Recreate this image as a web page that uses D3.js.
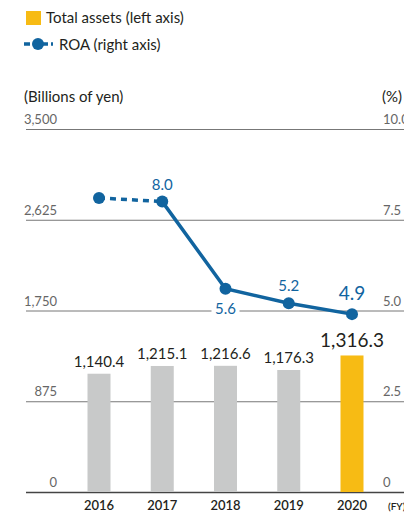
<!DOCTYPE html>
<html>
<head>
<meta charset="utf-8">
<script src="https://cdn.jsdelivr.net/npm/d3@7"></script>
<style>
  body { margin: 0; background: #fff; }
  svg { font-family: Lato, "Noto Sans", sans-serif; display: block; }
</style>
</head>
<body>
<div id="chart"></div>
<script>
// data
const years = ["2016", "2017", "2018", "2019", "2020"];
const assets = [1140.4, 1215.1, 1216.6, 1176.3, 1316.3];
const roa = [8.1, 8.0, 5.6, 5.2, 4.9];
const roaLabels = [null, "8.0", "5.6", "5.2", "4.9"];
const leftTicks = [0, 875, 1750, 2625, 3500];
const rightTicks = [0, 2.5, 5.0, 7.5, 10.0];

const W = 404, H = 518;
const blue = "#11649f", gray = "#c8c9c9", gold = "#f7bb14", ink = "#231f20";

const svg = d3.select("#chart").append("svg")
    .attr("width", W)
    .attr("height", H);

const x = d3.scalePoint().domain(years).range([99, 352]);
const yL = d3.scaleLinear().domain([0, 3500]).range([492, 129]);
const yR = d3.scaleLinear().domain([0, 10]).range([492, 129]);
const barW = 23;

// legend
svg.append("rect").attr("x", 26).attr("y", 11).attr("width", 15).attr("height", 14).attr("fill", gold);
svg.append("text").attr("x", 46).attr("y", 23).attr("font-size", 15).attr("fill", ink)
  .text("Total assets (left axis)");
svg.append("line").attr("x1", 24).attr("x2", 53).attr("y1", 44).attr("y2", 44)
  .attr("stroke", blue).attr("stroke-width", 3.5).attr("stroke-dasharray", "6,3");
svg.append("circle").attr("cx", 38).attr("cy", 44).attr("r", 6).attr("fill", blue);
svg.append("text").attr("x", 59).attr("y", 50).attr("font-size", 15).attr("fill", ink)
  .text("ROA (right axis)");

// axis titles
svg.append("text").attr("x", 24).attr("y", 102).attr("font-size", 15).attr("fill", ink)
  .text("(Billions of yen)");
svg.append("text").attr("x", 382).attr("y", 102).attr("font-size", 15).attr("fill", ink)
  .text("(%)");

// grid lines + tick labels
svg.append("g").selectAll("line")
  .data(leftTicks)
  .join("line")
    .attr("x1", 26).attr("x2", W)
    .attr("y1", d => yL(d) + 0.5).attr("y2", d => yL(d) + 0.5)
    .attr("stroke", d => d === 0 ? "#444" : "#777")
    .attr("stroke-width", d => d === 0 ? 1.3 : 1);

svg.append("g").selectAll("text")
  .data(leftTicks)
  .join("text")
    .attr("x", 57).attr("y", d => yL(d) - 5)
    .attr("text-anchor", "end")
    .attr("font-size", 13).attr("fill", "#666")
    .text(d => d3.format(",")(d));

svg.append("g").selectAll("text")
  .data(rightTicks)
  .join("text")
    .attr("x", 383).attr("y", d => yR(d) - 5)
    .attr("font-size", 13).attr("fill", "#666")
    .text(d => d === 0 ? "0" : d3.format(".1f")(d));

// bars
svg.append("g").selectAll("rect")
  .data(assets)
  .join("rect")
    .attr("x", (d, i) => x(years[i]) - barW / 2)
    .attr("width", barW)
    .attr("y", d => yL(d))
    .attr("height", d => yL(0) - yL(d))
    .attr("fill", (d, i) => i === assets.length - 1 ? gold : gray);

svg.append("g").selectAll("text")
  .data(assets)
  .join("text")
    .attr("x", (d, i) => x(years[i]))
    .attr("y", (d, i) => yL(d) - (i === assets.length - 1 ? 8 : 7))
    .attr("text-anchor", "middle")
    .attr("font-size", (d, i) => i === assets.length - 1 ? 19 : 15)
    .attr("fill", ink)
    .text(d => d3.format(",.1f")(d));

// x labels
svg.append("g").selectAll("text")
  .data(years)
  .join("text")
    .attr("x", d => x(d))
    .attr("y", 510)
    .attr("text-anchor", "middle")
    .attr("font-size", 13).attr("font-weight", 600)
    .attr("fill", ink)
    .text(d => d);
svg.append("text").attr("x", 388).attr("y", 510).attr("font-size", 10)
  .attr("font-weight", 600).attr("fill", ink).text("(FY)");

// ROA line
const pts = roa.map((v, i) => [x(years[i]), yR(v)]);
const line = d3.line();
svg.append("path").attr("d", line(pts.slice(0, 2)))
  .attr("fill", "none").attr("stroke", blue).attr("stroke-width", 3.5)
  .attr("stroke-dasharray", "6,5");
svg.append("path").attr("d", line(pts.slice(1)))
  .attr("fill", "none").attr("stroke", blue).attr("stroke-width", 3.5);
svg.append("g").selectAll("circle")
  .data(pts)
  .join("circle")
    .attr("cx", d => d[0]).attr("cy", d => d[1]).attr("r", 6)
    .attr("fill", blue);

// ROA labels
const lab = svg.append("g");
roa.forEach((v, i) => {
  if (!roaLabels[i]) return;
  const below = i === 2;
  const big = i === roa.length - 1;
  const ty = below ? yR(v) + 25 : yR(v) - (big ? 14 : 12);
  if (below) {
    lab.append("rect").attr("x", x(years[i]) - 14).attr("y", ty - 12)
      .attr("width", 28).attr("height", 14).attr("fill", "#fff");
  }
  lab.append("text")
    .attr("x", x(years[i]))
    .attr("y", ty)
    .attr("text-anchor", "middle")
    .attr("font-size", big ? 19 : 15)
    .attr("fill", blue)
    .text(roaLabels[i]);
});
</script>
</body>
</html>
